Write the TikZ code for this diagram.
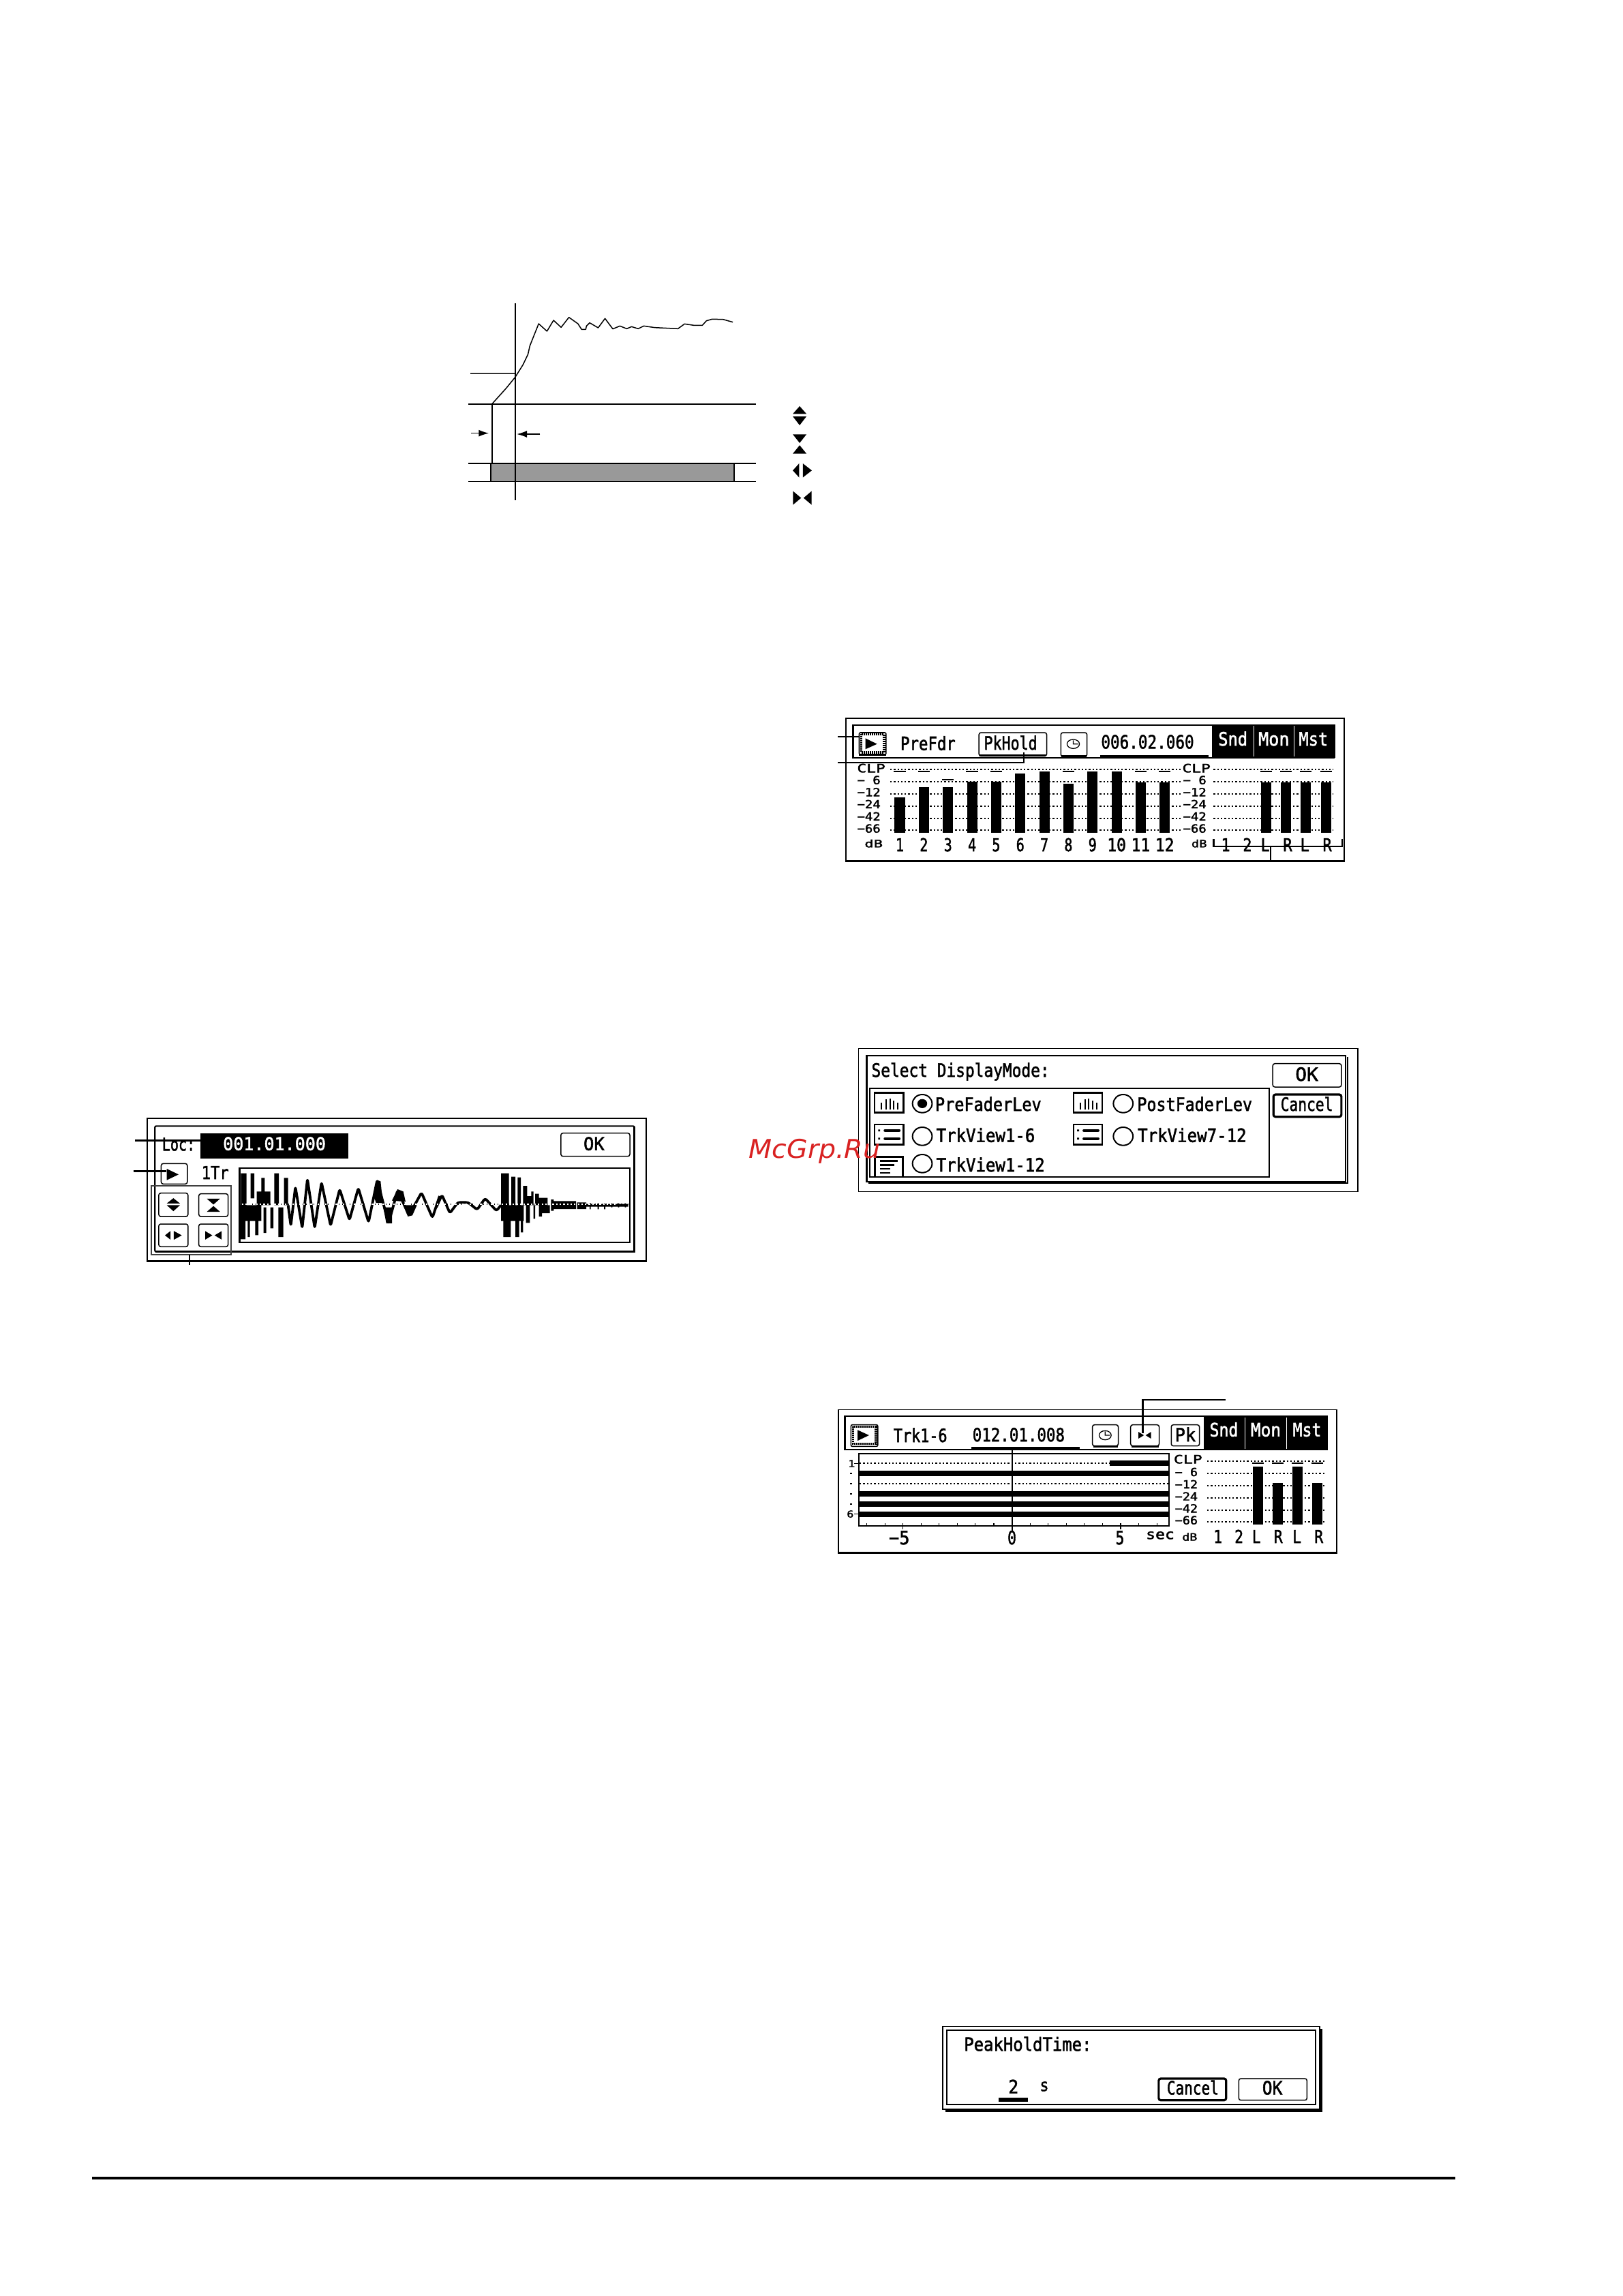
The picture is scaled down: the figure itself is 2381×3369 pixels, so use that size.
\documentclass[tikz,border=0pt]{standalone}
\usepackage{fontspec}
\usepackage{graphicx}
\usetikzlibrary{arrows.meta,shapes.geometric}
\newfontfamily\lcdfam[FakeBold=2]{DejaVu Sans Mono}
\newfontfamily\wmfam{DejaVu Sans}
\definecolor{wm}{HTML}{D92222}
\newsavebox\lcdbox
% name, centre x, baseline y, width (local units), font size (px), text
\newcommand\lt[6]{%
  \node[lcdtext] (#1) at (#2,#3) {\lcdfam\fontsize{#5}{#5}\selectfont
    \sbox\lcdbox{#6}\pgfmathsetmacro\lcdsx{(#4*\xu)/\the\wd\lcdbox}\scalebox{\lcdsx}[1]{\usebox\lcdbox}};}
% name, style, x1, y1, x2, y2 (local units)
\newcommand\bx[6]{\node[#2,inner sep=0pt,outer sep=0pt,minimum width={((#5)-(#3))*\xu*1pt},minimum height={((#6)-(#4))/3*1pt}] (#1) at ({((#3)+(#5))/2},{((#4)+(#6))/2}) {};}
\newcommand\wh[1]{\textcolor{white}{#1}}
% icons: centre x, centre y, scale
\newcommand\icUD[3]{\fill[shift={(#1,#2)},scale=#3] (0,-42)--(28,-8)--(-28,-8)--cycle (-28,3)--(28,3)--(0,42)--cycle;}
\newcommand\icDU[3]{\fill[shift={(#1,#2)},scale=#3] (-28,-42)--(28,-42)--(0,-4)--cycle (0,6)--(28,43)--(-28,43)--cycle;}
\newcommand\icLR[3]{\fill[shift={(#1,#2)},scale=#3] (-39,0)--(-13,-31)--(-13,31)--cycle (2,-31)--(2,31)--(39,0)--cycle;}
\newcommand\icRL[3]{\fill[shift={(#1,#2)},scale=#3] (-38,-30)--(-38,30)--(-5,0)--cycle (38,-30)--(38,30)--(5,0)--cycle;}
\newcommand\icBars[2]{\draw[line width=2pt,shift={(#1,#2)}]
  (-23,31)--(-23,1) (-9,31)--(-9,-14) (3,31)--(3,-19) (15,31)--(15,-9) (27,31)--(27,1);}
\newcommand\icTrk[2]{\draw[line width=4.3pt,line cap=round,shift={(#1,#2)}] (-12,-18)--(31,-18) (-12,18)--(31,18);
  \fill[shift={(#1,#2)}] (-33,-22) rectangle (-27,-14) (-33,14) rectangle (-27,22);}
\newcommand\icClock[2]{\draw[line width=1.3pt,shift={(#1,#2)}] (0,0) circle[x radius=18,y radius=20] (0,-16)--(0,0)--(14,0);}
\tikzset{
 lcdtext/.style={inner sep=0pt,outer sep=0pt,anchor=base},
 zoomat/.style n args={3}{shift={(#1,#2)},x=#3pt,y=-.33333pt},
 frame/.style={draw,line width=1.7pt},
 inner/.style={draw,line width=2.2pt},
 heavy/.style={line width=3pt},
 lead/.style={draw,line width=2.3pt},
 btn/.style={draw,line width=1.5pt,rounded corners=3pt,fill=white},
 btnbold/.style={draw,line width=3.2pt,rounded corners=3pt,fill=white},
 ico/.style={draw,line width=2.8pt},
 listbox/.style={draw,line width=2.2pt},
 radio/.style={draw,line width=2pt,ellipse},
 blackbox/.style={fill=black},
 dots/.style={line width=1.9pt,dash pattern=on 2.3pt off 3pt},
 peak/.style={line width=2.2pt},
 grpbox/.style={draw=black!75,line width=2.2pt},
 wave/.style={line width=3.8pt,line join=round,rounded corners=3pt},
}
\begin{document}
\begin{tikzpicture}[x=1pt,y=-1pt]
\useasboundingbox (0,0) rectangle (2381,3369);
\fill[white] (0,0) rectangle (2381,3369);

%%% envelope graph
\begin{scope}[zoomat={660}{420}{.3578}]
 \def\xu{.3578}
 \fill[black!40] (168,780) rectangle (1165,859);
 \draw[line width=1.6pt] (168,780)--(168,859) (1165,780)--(1165,859);
 \draw[line width=2.1pt] (76,519)--(1256,519) (76,780)--(1256,780);
 \draw[line width=1.2pt] (76,859)--(1256,859);
 \draw[line width=1.8pt,black!80] (84,385)--(268,385);
 \draw[line width=2.1pt] (268,75)--(268,943) (172,519)--(172,780);
 \draw[line width=1.5pt,line join=round] (172,519)--(230,450)--(268,400)--(300,345)--(320,300)--(328,262)--(364,165)--(398,198)--(425,150)--(456,181)--(488,137)--(525,165)--(540,190)--(557,190)--(560,175)--(573,161)--(608,183)--(636,142)--(668,188)--(697,175)--(725,187)--(745,178)--(772,187)--(795,175)--(840,182)--(935,187)--(962,166)--(1000,172)--(1035,172)--(1052,152)--(1075,145)--(1120,146)--(1160,158);
 \coordinate (gL) at (88,647); \coordinate (gLe) at (160,647);
 \coordinate (gR) at (370,651); \coordinate (gRe) at (274,651);
 \draw[line width=1.6pt,-{Latex[length=15pt,width=10pt]}] (gL)--(gLe);
 \draw[line width=1.6pt,-{Latex[length=15pt,width=10pt]}] (gR)--(gRe);
 \icUD{1434}{570}{1}
 \icDU{1434}{694}{1}
 \icLR{1445}{811}{1}
 \icRL{1445}{932}{1}
\end{scope}

%%% level meter panel
\begin{scope}[zoomat={1210}{1030}{.5048}]
 \def\xu{.5048}
 \draw[frame] (62,72) rectangle (1510,698);
 \draw[heavy] (60,699)--(1512,699);
 \draw[inner] (82,102) rectangle (1480,245);
 \fill (1125,100) rectangle (1483,247);
 \draw[white,line width=1pt] (1247,105)--(1247,240) (1364,105)--(1364,240);
 \lt{m2snd}{1186}{192}{85}{27}{\wh{Snd}}
 \lt{m2mon}{1305}{192}{90}{27}{\wh{Mon}}
 \lt{m2mst}{1420}{192}{85}{27}{\wh{Mst}}
 \draw[line width=1.6pt,fill=white,rounded corners=2pt] (100,135) rectangle (178,232);
 \draw[line width=3.4pt,dash pattern=on 2pt off 1pt] (106,142) rectangle (172,222);
 \fill (118,160)--(152,185)--(118,208)--cycle;
 \draw[heavy] (100,232)--(178,232);
 \lt{m2pre}{300}{212}{160}{27}{PreFdr}
 \bx{m2pk}{btn}{448}{135}{645}{238}
 \draw[heavy] (450,236)--(642,236);
 \lt{m2pkt}{540}{210}{155}{27}{PkHold}
 \bx{m2clk}{btn}{686}{135}{762}{240}
 \draw[heavy] (688,238)--(760,238);
 \icClock{722}{185}
 \lt{m2time}{938}{205}{270}{27}{006.02.060}
 \draw[heavy] (800,238)--(1115,238);
 % leaders
 \coordinate (m2a) at (38,153); \coordinate (m2b) at (38,268); \coordinate (m2c) at (578,268); \coordinate (m2d) at (578,222);
 \path[lead] (m2a)--(100,153);
 \path[lead] (m2b)--(m2c)--(m2d);
 % scales
 \foreach \yy in {297,352,405,458,512,565} {
   \draw[dots] (190,\yy)--(1040,\yy);
   \draw[dots] (1130,\yy)--(1478,\yy);
 }
 \foreach \t/\yy [count=\k] in {CLP/310} {
   \lt{m2c\k}{135}{\yy}{82}{17}{\t}
   \lt{m2d\k}{1080}{\yy}{82}{17}{\t}
 }
 \foreach \t/\yy [count=\k] in {{− 6}/362,{−12}/415,{−24}/468,{−42}/522,{−66}/575} {
   \lt{m2e\k}{128}{\yy}{68}{16.5}{\t}
   \lt{m2f\k}{1075}{\yy}{68}{16.5}{\t}
 }
 % bars
 \foreach \xx/\tp/\t [count=\k] in {218/420/1,288/375/2,358/375/3,428/350/4,498/350/5,568/315/6,638/305/7,708/360/8,778/305/9,848/305/10,918/355/11,988/355/12} {
   \fill (\xx-15,\tp) rectangle (\xx+15,575);
   \lt{m2n\k}{\xx}{657}{\ifnum\k>9 55\else 24\fi}{26}{\t}
 }
 \foreach \xx in {218,288,428,498,708,918,988} \draw[peak] (\xx-17,306)--(\xx+17,306);
 \draw[peak] (341,343)--(375,343);
 \foreach \xx in {1282,1340,1398,1457} {
   \fill (\xx-15,355) rectangle (\xx+15,575);
   \draw[peak] (\xx-17,306)--(\xx+17,306);
 }
 \lt{m2db}{142}{640}{53}{15}{dB}
 \lt{m2dc}{1088}{640}{45}{15}{dB}
 \foreach \xx/\t [count=\k] in {1165/1,1228/2,1280/L,1345/R,1395/L,1460/R} {
   \lt{m2o\k}{\xx}{657}{26}{26}{\t}
 }
 \coordinate (m2br) at (1295,637);
 \path[lead] (1130,603)--(1130,637)--(1503,637)--(1503,603);
 \path[lead] (m2br)--(1295,695);
\end{scope}

%%% waveform panel
\begin{scope}[zoomat={170}{1620}{.5112}]
 \def\xu{.5112}
 \draw[frame] (90,63) rectangle (1522,690);
 \draw[heavy] (88,691)--(1524,691);
 \draw[inner,rounded corners=2pt] (112,97) rectangle (1488,650);
 \draw[line width=3.2pt] (114,650)--(1488,650)--(1488,100);
 \lt{w3loc}{180}{205}{95}{26}{Loc:}
 \bx{w3box}{blackbox}{243}{128}{668}{240}
 \lt{w3time}{455}{203}{295}{26}{\wh{001.01.000}}
 \bx{w3ok}{btn}{1277}{128}{1475}{230}
 \lt{w3okt}{1372}{203}{60}{26}{OK}
 \coordinate (w3la) at (55,160); \coordinate (w3lb) at (243,160);
 \path[lead] (w3la)--(w3lb);
 \bx{w3play}{btn}{130}{262}{205}{352}
 \fill (146,285)--(180,310)--(146,335)--cycle;
 \path[lead] (50,295)--(145,295);
 \lt{w3tr}{285}{330}{78}{26}{1Tr}
 \bx{w3a}{btn}{123}{392}{207}{495}
 \bx{w3b}{btn}{238}{395}{322}{495}
 \bx{w3c}{btn}{123}{528}{207}{628}
 \bx{w3d}{btn}{238}{528}{322}{628}
 \icUD{165}{443}{.68}
 \icDU{280}{445}{.68}
 \icLR{165}{578}{.62}
 \icRL{280}{578}{.62}
 \bx{w3grp}{grpbox}{102}{360}{330}{662}
 \path[grpbox,draw=black] (211,662)--(211,708);
 \draw[inner] (355,282) rectangle (1475,608);
 \draw[dots] (360,440)--(1470,440);
\end{scope}
% waveform, first half
\begin{scope}[zoomat={345}{1705}{.33333}]
 \fill (25,50) rectangle (50,190) (68,50) rectangle (84,160) (25,190) rectangle (115,260)
       (95,130) rectangle (155,190) (115,70) rectangle (130,140)
       (22,190) rectangle (45,340) (55,260) rectangle (65,330) (88,260) rectangle (102,322)
       (125,200) rectangle (137,312) (155,200) rectangle (168,292)
       (172,50) rectangle (192,190) (190,200) rectangle (212,330) (215,70) rectangle (233,190);
 \draw[wave] (233,190)--(245,280)--(265,110)--(295,290)--(318,75)--(350,290)--(380,90)--(420,280)--(460,120)--(503,255)--(542,115)--(587,265)--(625,80)--(675,270)--(715,125)--(765,235)--(820,135)--(868,245)--(900,150);
 \fill (610,150)--(625,80)--(640,85)--(650,180)--(620,180)--cycle
       (652,200)--(665,270)--(690,270)--(690,200)--cycle
       (690,170)--(715,120)--(740,130)--(750,175)--cycle
       (740,190)--(760,240)--(780,235)--(800,190)--cycle;
\end{scope}
% waveform, second half
\begin{scope}[zoomat={640}{1705}{.33333}]
 \draw[wave] (0,200)--(25,145)--(60,225)--(95,178)--(140,178)--(180,210)--(215,160)--(265,215)--(285,190);
 \fill (285,50) rectangle (320,260) (295,260) rectangle (328,330) (330,65) rectangle (348,190)
       (285,190) rectangle (385,260) (348,260) rectangle (365,330) (372,260) rectangle (382,310)
       (358,68) rectangle (372,190) (382,105) rectangle (400,190) (395,190) rectangle (412,268)
       (400,150) rectangle (425,190) (418,130) rectangle (428,190) (428,190) rectangle (435,250)
       (435,140) rectangle (452,190) (452,190) rectangle (465,240) (450,158) rectangle (490,190)
       (465,190) rectangle (500,225) (505,165) rectangle (517,215) (517,172) rectangle (615,207)
       (620,178) rectangle (660,207) (660,185) rectangle (845,197)
       (675,180) rectangle (680,208) (710,182) rectangle (716,208) (738,182) rectangle (744,208)
       (770,182) rectangle (775,200) (800,182) rectangle (805,200) (830,182) rectangle (835,200);
\end{scope}
\draw[white,line width=1.6pt,dash pattern=on 2.2pt off 3.1pt,dash phase=-2.6pt] (352,1767)--(905,1767);

%%% display mode dialog
\begin{scope}[zoomat={1250}{1520}{.4792}]
 \def\xu{.4792}
 \draw[frame] (20,55) rectangle (1548,685);
 \draw[inner] (45,88) rectangle (1510,642);
 \draw[line width=2.6pt] (50,648)--(1517,648)--(1517,94);
 \lt{d4ttl}{332}{180}{545}{27}{Select DisplayMode:}
 \bx{d4list}{listbox}{55}{232}{1277}{622}
 \bx{d4ok}{btn}{1288}{122}{1498}{225}
 \lt{d4okt}{1392}{198}{70}{27}{OK}
 \bx{d4can}{btnbold}{1290}{258}{1498}{356}
 \lt{d4cant}{1392}{330}{160}{27}{Cancel}
 \foreach \cx/\cy/\ty/\nm in {113/294/b/a,722/294/b/b,113/434/t/c,722/434/t/d} {
   \bx{d4\nm}{ico}{\cx-44}{\cy-44}{\cx+44}{\cy+44}
   \if b\ty \icBars{\cx}{\cy}\else \icTrk{\cx}{\cy}\fi
 }
 \draw[line width=2.8pt] (70,620)--(70,532)--(155,532)--(155,620);
 \draw[line width=2.4pt] (85,550)--(140,550) (85,568)--(129,568) (85,585)--(117,585) (85,603)--(117,603);
 \foreach \cx/\cy/\k in {215/298/a,830/298/b,215/442/c,830/442/d,215/562/e} {
   \bx{d4r\k}{radio}{\cx-30}{\cy-40}{\cx+30}{\cy+40}
 }
 \fill (215,298) circle[x radius=15,y radius=20];
 \lt{d4a}{417}{330}{325}{27}{PreFaderLev}
 \lt{d4b}{1049}{330}{352}{27}{PostFaderLev}
 \lt{d4c}{409}{467}{302}{27}{TrkView1-6}
 \lt{d4d}{1041}{467}{333}{27}{TrkView7-12}
 \lt{d4e}{424}{597}{332}{27}{TrkView1-12}
\end{scope}

%%% track view panel
\begin{scope}[zoomat={1210}{2040}{.4920}]
 \def\xu{.4920}
 \draw[frame] (40,85) rectangle (1527,713);
 \draw[heavy] (38,714)--(1529,714);
 \draw[inner] (60,115) rectangle (1497,262);
 \fill (1130,113) rectangle (1498,264);
 \draw[white,line width=1pt] (1253,120)--(1253,258) (1376,120)--(1376,258);
 \lt{t5snd}{1190}{203}{85}{27}{\wh{Snd}}
 \lt{t5mon}{1315}{203}{90}{27}{\wh{Mon}}
 \lt{t5mst}{1438}{203}{85}{27}{\wh{Mst}}
 \draw[line width=1.6pt,fill=white,rounded corners=2pt] (78,152) rectangle (158,247);
 \draw[line width=3.4pt,dash pattern=on 2pt off 1pt] (84,160) rectangle (152,236);
 \fill (98,175)--(132,198)--(98,222)--cycle;
 \lt{t5trk}{285}{228}{160}{27}{Trk1-6}
 \lt{t5time}{578}{225}{275}{27}{012.01.008}
 \draw[heavy] (437,253)--(760,253);
 \bx{t5clk}{btn}{798}{152}{875}{245}
 \icClock{836}{198}
 \bx{t5ic}{btn}{912}{152}{997}{245}
 \icRL{954}{198}{.5}
 \bx{t5pk}{btn}{1033}{152}{1117}{245}
 \lt{t5pkt}{1075}{225}{62}{27}{Pk}
 \draw[heavy] (800,247)--(873,247) (914,247)--(995,247);
 \coordinate (t5l) at (1195,42);
 \path[lead] (t5l)--(948,42)--(948,190);
 % timeline
 \foreach \yy/\xa in {366/104,455/104,500/104,545/104,322/850} {
   \fill (\xa,\yy-12) rectangle (1027,\yy+12);
 }
 \draw[dots] (104,322)--(850,322);
 \draw[dots] (104,411)--(1027,411);
 \draw[inner] (102,278) rectangle (1027,598);
 \foreach \xx in {125,179,233,287,341,395,449,504,558,612,666,720,774,828,882,936,990} {
   \draw[line width=1.1pt] (\xx,598)--(\xx,586);
 }
 \draw[line width=1.4pt] (233,598)--(233,612) (882,598)--(882,612);
 \draw[line width=2pt] (558,262)--(558,622);
 \lt{t51}{80}{338}{20}{14}{1}
 \lt{t56}{76}{560}{20}{14}{6}
 \draw[line width=1pt] (88,322)--(102,322) (88,545)--(102,545);
 \foreach \yy in {365,410,455,500} \fill (76,\yy-3) rectangle (82,\yy+3);
 \lt{t5m5}{222}{678}{62}{27}{−5}
 \lt{t500}{558}{678}{26}{27}{0}
 \lt{t505}{880}{678}{26}{27}{5}
 \lt{t5sec}{1000}{655}{85}{20}{sec}
 \lt{t5db}{1088}{662}{45}{15}{dB}
 % scale
 \foreach \yy in {312,365,420,473,527,580} \draw[dots] (1140,\yy)--(1490,\yy);
 \lt{t5clp}{1083}{322}{85}{17}{CLP}
 \foreach \t/\yy [count=\k] in {{− 6}/378,{−12}/432,{−24}/485,{−42}/538,{−66}/590} {
   \lt{t5e\k}{1078}{\yy}{68}{16.5}{\t}
 }
 \foreach \xx/\tp in {1292/335,1350/408,1410/335,1468/408} {
   \fill (\xx-15,\tp) rectangle (\xx+15,590);
   \draw[peak] (\xx-17,320)--(\xx+17,320);
 }
 \foreach \xx/\t [count=\k] in {1172/1,1235/2,1287/L,1352/R,1408/L,1473/R} {
   \lt{t5o\k}{\xx}{672}{26}{26}{\t}
 }
\end{scope}

%%% peak hold dialog
\begin{scope}[zoomat={1370}{2960}{.3706}]
 \def\xu{.3706}
 \draw[frame] (35,40) rectangle (1527,405);
 \draw[inner] (52,58) rectangle (1510,385);
 \draw[line width=3pt] (45,412)--(1535,412)--(1535,50);
 \lt{p6ttl}{372}{148}{505}{27}{PeakHoldTime:}
 \lt{p62}{315}{335}{40}{27}{2}
 \fill (255,354) rectangle (373,371);
 \lt{p6s}{437}{325}{35}{25}{s}
 \bx{p6can}{btnbold}{890}{270}{1157}{365}
 \lt{p6cant}{1025}{340}{205}{27}{Cancel}
 \bx{p6ok}{btn}{1207}{270}{1477}{365}
 \lt{p6okt}{1340}{340}{80}{27}{OK}
\end{scope}

%%% footer rule
\draw[line width=4pt] (135,3196)--(2135,3196);

%%% watermark
\node[inner sep=0pt,anchor=base,text=wm] (wmark) at (1195,1699)
  {\wmfam\itshape\fontsize{38}{38}\selectfont\scalebox{1.04}[1]{McGrp.Ru}};
\end{tikzpicture}
\end{document}
